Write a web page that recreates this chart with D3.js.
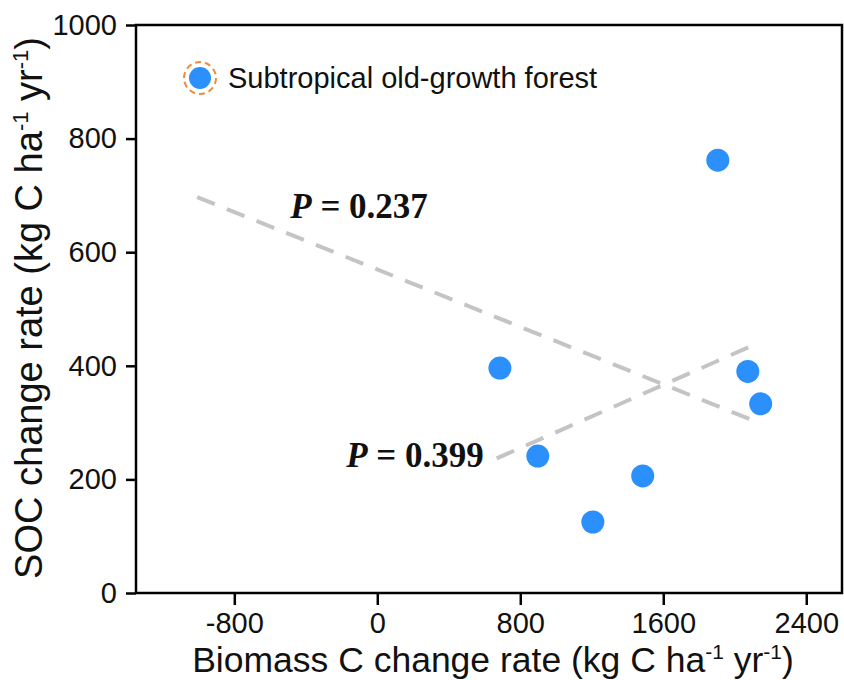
<!DOCTYPE html>
<html>
<head>
<meta charset="utf-8">
<script src="https://cdn.jsdelivr.net/npm/d3@7"></script>
<style>
  body { margin: 0; background: #fff; }
  svg { display: block; }
  .tick text { font-family: "Liberation Sans", Arial, sans-serif; }
</style>
</head>
<body>
<script>
// values
const biomass = [686, 898, 1206, 1485, 1905, 2073, 2145];
const soc = [396, 241, 125, 206, 762, 390, 333];

// the two dashed fit lines (end points)
const fit1X = [-1008, 2149], fit1Y = [697, 298];
const fit2X = [668, 2094],  fit2Y = [237, 435];
const fitLabels = ["0.237", "0.399"];

const xTicks = [-800, 0, 800, 1600, 2400];
const yTicks = [0, 200, 400, 600, 800, 1000];
const legendLabel = "Subtropical old-growth forest";

let margin = null, width = null, height = null;
let svg = null, x = null, y = null;

setupCanvasSize();
appendSvg("body");
setupScales();
appendAxes();
appendFits();
appendPoints();
appendLegend();
appendTitles();

function setupCanvasSize() {
  margin = {top: 25, left: 136, bottom: 87, right: 2};
  width = 844 - margin.left - margin.right;
  height = 680 - margin.top - margin.bottom;
}

function appendSvg(domElement) {
  svg = d3.select(domElement).append("svg")
    .attr("width", 844)
    .attr("height", 680)
    .append("g")
    .attr("transform", `translate(${margin.left}, ${margin.top})`);
}

function setupScales() {
  x = d3.scaleLinear().domain([-1350, 2600]).range([0, width]);
  y = d3.scaleLinear().domain([0, 1000]).range([height, 0]);
}

function appendAxes() {
  const fmt = d => String(d);
  const gx = svg.append("g")
    .attr("transform", `translate(0,${height})`)
    .call(d3.axisBottom(x).tickValues(xTicks).tickFormat(fmt)
      .tickSize(12).tickSizeOuter(0).tickPadding(7));
  const gy = svg.append("g")
    .call(d3.axisLeft(y).tickValues(yTicks).tickFormat(fmt)
      .tickSize(10).tickSizeOuter(0).tickPadding(9));
  [gx, gy].forEach(g => {
    g.select(".domain").remove();
    g.selectAll("line").attr("stroke", "#000").attr("stroke-width", 2.5);
    g.selectAll("text").attr("font-size", 29).attr("fill", "#111");
  });
  // box frame
  svg.append("rect")
    .attr("width", width).attr("height", height)
    .attr("fill", "none").attr("stroke", "#000").attr("stroke-width", 2.5);
}

function appendFits() {
  const fits = [[fit1X, fit1Y], [fit2X, fit2Y]];
  fits.forEach(([fx, fy]) => {
    svg.append("line")
      .attr("x1", x(fx[0])).attr("y1", y(fy[0]))
      .attr("x2", x(fx[1])).attr("y2", y(fy[1]))
      .attr("stroke", "#c4c4c4").attr("stroke-width", 4)
      .attr("stroke-dasharray", "19,13");
  });
  // P labels
  const pos = [[-102, 660], [211, 222]];
  fitLabels.forEach((p, i) => {
    const t = svg.append("text")
      .attr("x", x(pos[i][0])).attr("y", y(pos[i][1]))
      .attr("text-anchor", "middle")
      .attr("font-family", "'Liberation Serif', 'Times New Roman', serif")
      .attr("font-weight", "bold").attr("font-size", 35).attr("fill", "#111");
    t.append("tspan").attr("font-style", "italic").text("P");
    t.append("tspan").text(" = " + p);
  });
}

function appendPoints() {
  svg.selectAll("circle.pt")
    .data(biomass)
    .enter().append("circle")
    .attr("class", "pt")
    .attr("cx", d => x(d))
    .attr("cy", (d, i) => y(soc[i]))
    .attr("r", 11.5)
    .attr("fill", "#2b90fb");
}

function appendLegend() {
  const lg = svg.append("g").attr("transform", `translate(${200 - margin.left},${78 - margin.top})`);
  lg.append("circle").attr("r", 16).attr("fill", "none")
    .attr("stroke", "#f08a3c").attr("stroke-width", 2).attr("stroke-dasharray", "6,4");
  lg.append("circle").attr("r", 11).attr("fill", "#2b90fb");
  lg.append("text").attr("x", 28).attr("y", 10)
    .attr("font-family", "'Liberation Sans', Arial, sans-serif")
    .attr("font-size", 29).attr("fill", "#111")
    .text(legendLabel);
}

function appendTitles() {
  const xt = svg.append("text")
    .attr("x", width / 2 + 4).attr("y", height + 79)
    .attr("text-anchor", "middle")
    .attr("font-family", "'Liberation Sans', Arial, sans-serif")
    .attr("font-size", 35.5).attr("fill", "#111");
  addUnit(xt, "Biomass C change rate (kg C ha", 21, 13);

  const yt = svg.append("text")
    .attr("transform", `translate(${-94},${height / 2 - 1}) rotate(-90)`)
    .attr("text-anchor", "middle")
    .attr("font-family", "'Liberation Sans', Arial, sans-serif")
    .attr("font-size", 38).attr("fill", "#111");
  addUnit(yt, "SOC change rate (kg C ha", 22, 14);
}

function addUnit(t, head, supSize, rise) {
  t.append("tspan").text(head);
  t.append("tspan").attr("font-size", supSize).attr("dy", -rise).text("-1");
  t.append("tspan").attr("dy", rise).text(" yr");
  t.append("tspan").attr("font-size", supSize).attr("dy", -rise).text("-1");
  t.append("tspan").attr("dy", rise).text(")");
}
</script>
</body>
</html>
